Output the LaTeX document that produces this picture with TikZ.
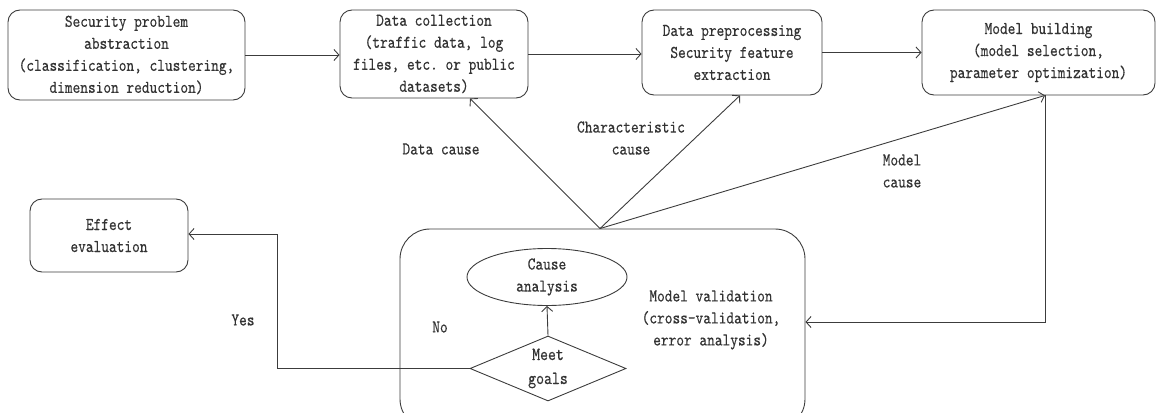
\documentclass[tikz,border=0pt]{standalone}
\usepackage{fontspec}
\setmonofont[FakeStretch=0.815,FakeBold=0.3]{lmmono10-regular.otf}
\usetikzlibrary{shapes.geometric,arrows.meta}
\definecolor{ink}{HTML}{3C3C3C}
\definecolor{txt}{HTML}{333333}
\tikzset{
  base/.style={draw=ink, line width=0.9pt, text=txt, align=center, inner sep=0pt,
    font=\fontsize{18}{22}\selectfont\ttfamily},
  stepbox/.style={base, rectangle, rounded corners=12pt},
  label/.style={text=txt, align=center, inner sep=0pt,
    font=\fontsize{18}{22}\selectfont\ttfamily},
  flow/.style={draw=ink, line width=0.9pt, -{Straight Barb[length=5pt,width=11pt]}},
  plain/.style={draw=ink, line width=0.9pt}
}
\begin{document}
\begin{tikzpicture}[x=1pt,y=-1pt]
  \useasboundingbox (0,0) rectangle (1161,412);
  \clip (0,0) rectangle (1161,412);

  % top row of process steps
  \node[stepbox, minimum width=237pt, minimum height=90pt] (spa) at (126.5,55)
    {Security problem\\abstraction\\(classification, clustering,\\dimension reduction)};
  \node[stepbox, minimum width=188pt, minimum height=88pt] (dc) at (434,54)
    {Data collection\\(traffic data, log\\files, etc. or public\\datasets)};
  \node[stepbox, minimum width=180pt, minimum height=85pt] (dp) at (732,52.5)
    {Data preprocessing\\Security feature\\extraction};
  \node[stepbox, minimum width=233pt, minimum height=85pt] (mb) at (1038.5,52.5)
    {Model building\\(model selection,\\parameter optimization)};

  % result box
  \node[stepbox, minimum width=158pt, minimum height=73pt] (ee) at (109,235.5)
    {Effect\\evaluation};

  % validation container (runs past the lower edge)
  \node[base, rectangle, rounded corners=30pt, minimum width=405pt, minimum height=200pt] (mv) at (602.5,329) {};
  \node[label] (mvt) at (711,320) {Model validation\\(cross-validation,\\error analysis)};
  \node[base, ellipse, minimum width=160pt, minimum height=57pt] (ca) at (547,277) {Cause\\analysis};
  \node[base, diamond, minimum width=156pt, minimum height=65pt, aspect=2.4,
        font=\fontsize{18.5}{24}\selectfont\ttfamily] (mg) at (548,368.5) {Meet\\goals};

  % top row flow
  \draw[flow] (spa.east) -- (dc.west |- spa.east);
  \draw[flow] (dc.east) -- (dp.west |- dc.east);
  \draw[flow] (dp.east) -- (mb.west |- dp.east);

  % model building down into validation
  \coordinate (mbs) at ([xshift=6.5pt]mb.south);
  \draw[flow] (mbs) -- (mbs |- 0,322) -- (mv.east |- 0,322);

  % feedback causes
  \coordinate (apex) at ([xshift=-2.5pt]mv.north);
  \draw[flow] (apex) -- ([xshift=36pt]dc.south);
  \draw[flow] (apex) -- ([xshift=8pt]dp.south);
  \draw[flow] (apex) -- (mbs);
  \node[label] (lbd) at (441,149) {Data cause};
  \node[label] (lbc) at (631,138) {Characteristic\\cause};
  \node[label] (lbm) at (902,171) {Model\\cause};

  % decision outcomes
  \draw[flow] (mg.north) -- (ca.south);
  \draw[flow] (mg.west) -- (277,368.5) -- (277,234) -- (ee.east |- 0,234);
  \node[label] (lyes) at (243,320) {Yes};
  \node[label] (lno) at (440,327) {No};
\end{tikzpicture}
\end{document}
